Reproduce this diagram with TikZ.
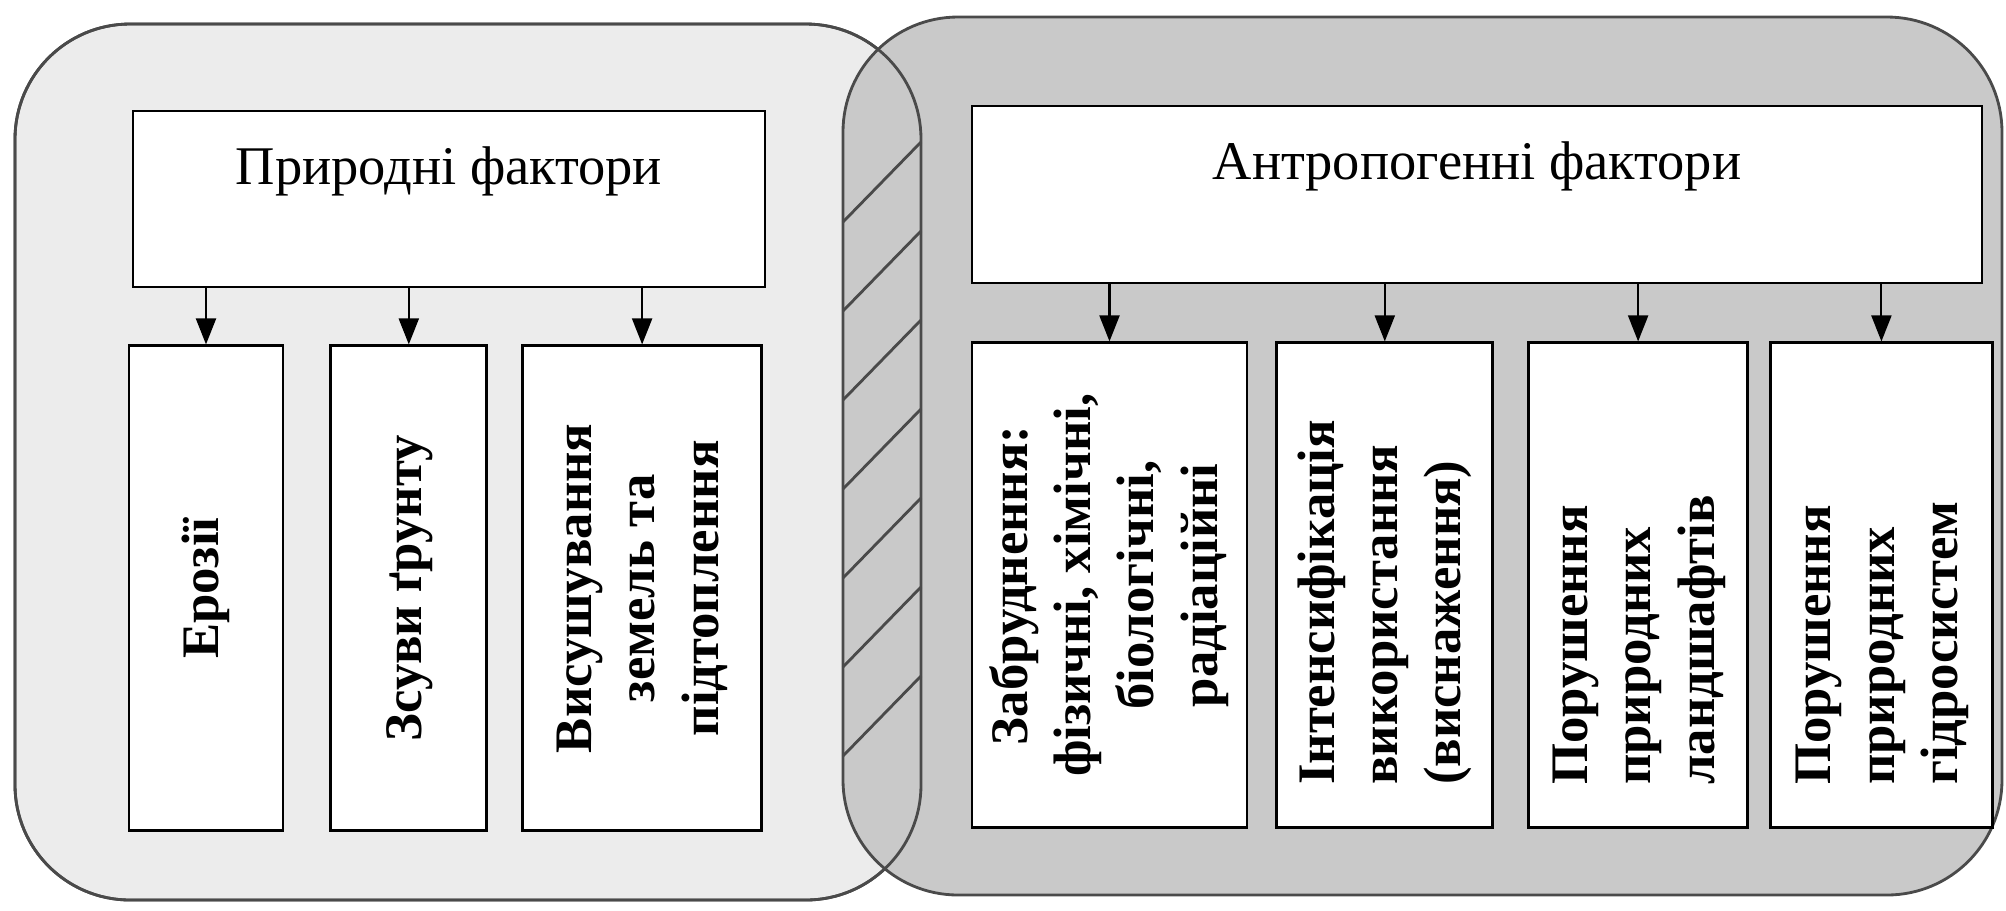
\documentclass[tikz,border=0pt]{standalone}
\usepackage{fontspec}
\setmainfont{Liberation Serif}
\usepackage{graphicx}
\usetikzlibrary{arrows.meta,positioning}

\definecolor{natfill}{HTML}{ECECEC}
\definecolor{antfill}{HTML}{C9C9C9}
\definecolor{framecol}{HTML}{4A4A4A}

% rotated multi-line label for the tall boxes
\newcommand{\vtext}[2][c]{\rotatebox{90}{\begin{tabular}{@{}#1@{}}#2\end{tabular}}}

\begin{document}
\begin{tikzpicture}[
  x=0.1mm, y=-0.1mm,
  head/.style={draw, line width=0.8pt, fill=white, inner sep=0pt, text height=4.6mm, text depth=7.6mm, font=\fontsize{15.5}{18}\selectfont},
  vbox/.style={draw, line width=0.8pt, fill=white, inner sep=0pt, minimum height=48.5mm, font=\bfseries\fontsize{15}{18}\selectfont},
  arrow/.style={-{Triangle[length=2.6mm,width=2mm]}, line width=0.6pt},
  frame/.style={draw=framecol, line width=0.8pt, rounded corners=11.5mm},
]
\path[use as bounding box, fill=white] (0,0) rectangle (2006,910);

% the two groups and their overlap
\path[frame, fill=natfill] (15,24) rectangle (921,900);
\path[frame, fill=antfill] (843,17) rectangle (2002,895);
\foreach \k in {0,...,6}
  \draw[framecol, line width=0.8pt] (843,{222+89*\k}) -- (921,{142+89*\k});
\path[frame] (15,24) rectangle (921,900);

\node[head, minimum width=63.2mm, minimum height=17.6mm] (nat) at (449,199) {Природні фактори};
\node[head, minimum width=101mm, minimum height=17.7mm] (ant) at (1477,194.5) {Антропогенні фактори};

\node[vbox, minimum width=15.4mm, below=5.6mm of nat.south west, anchor=north west, xshift=-0.4mm] (eros) {\vtext{Ерозії}};
\node[vbox, minimum width=15.6mm, right=4.5mm of eros] (slide) {\vtext{Зсуви ґрунту}};
\node[vbox, minimum width=23.9mm, right=3.3mm of slide] (drain) {\vtext{Висушування\\земель та\\підтоплення}};

\node[vbox, minimum width=27.5mm, below=5.7mm of ant.south west, anchor=north west] (pollut) {\vtext{Забруднення:\\фізичні, хімічні,\\біологічні,\\радіаційні}};
\node[vbox, minimum width=21.6mm, right=2.7mm of pollut] (intens) {\vtext[p{39.9mm}]{Інтенсифікація\\використання\\(виснаження)}};
\node[vbox, minimum width=21.9mm, right=3.3mm of intens] (lands) {\vtext[p{39.9mm}]{Порушення\\природних\\ландшафтів}};
\node[vbox, minimum width=22.2mm, right=2.0mm of lands] (hydro) {\vtext[p{39.9mm}]{Порушення\\природних\\гідросистем}};

\draw[arrow] (nat.south -| eros) -- (eros);
\draw[arrow] (nat.south -| slide) -- (slide);
\draw[arrow] (nat.south -| drain) -- (drain);
\draw[arrow] (ant.south -| pollut) -- (pollut);
\draw[arrow] (ant.south -| intens) -- (intens);
\draw[arrow] (ant.south -| lands) -- (lands);
\draw[arrow] (ant.south -| hydro) -- (hydro);
\end{tikzpicture}
\end{document}
